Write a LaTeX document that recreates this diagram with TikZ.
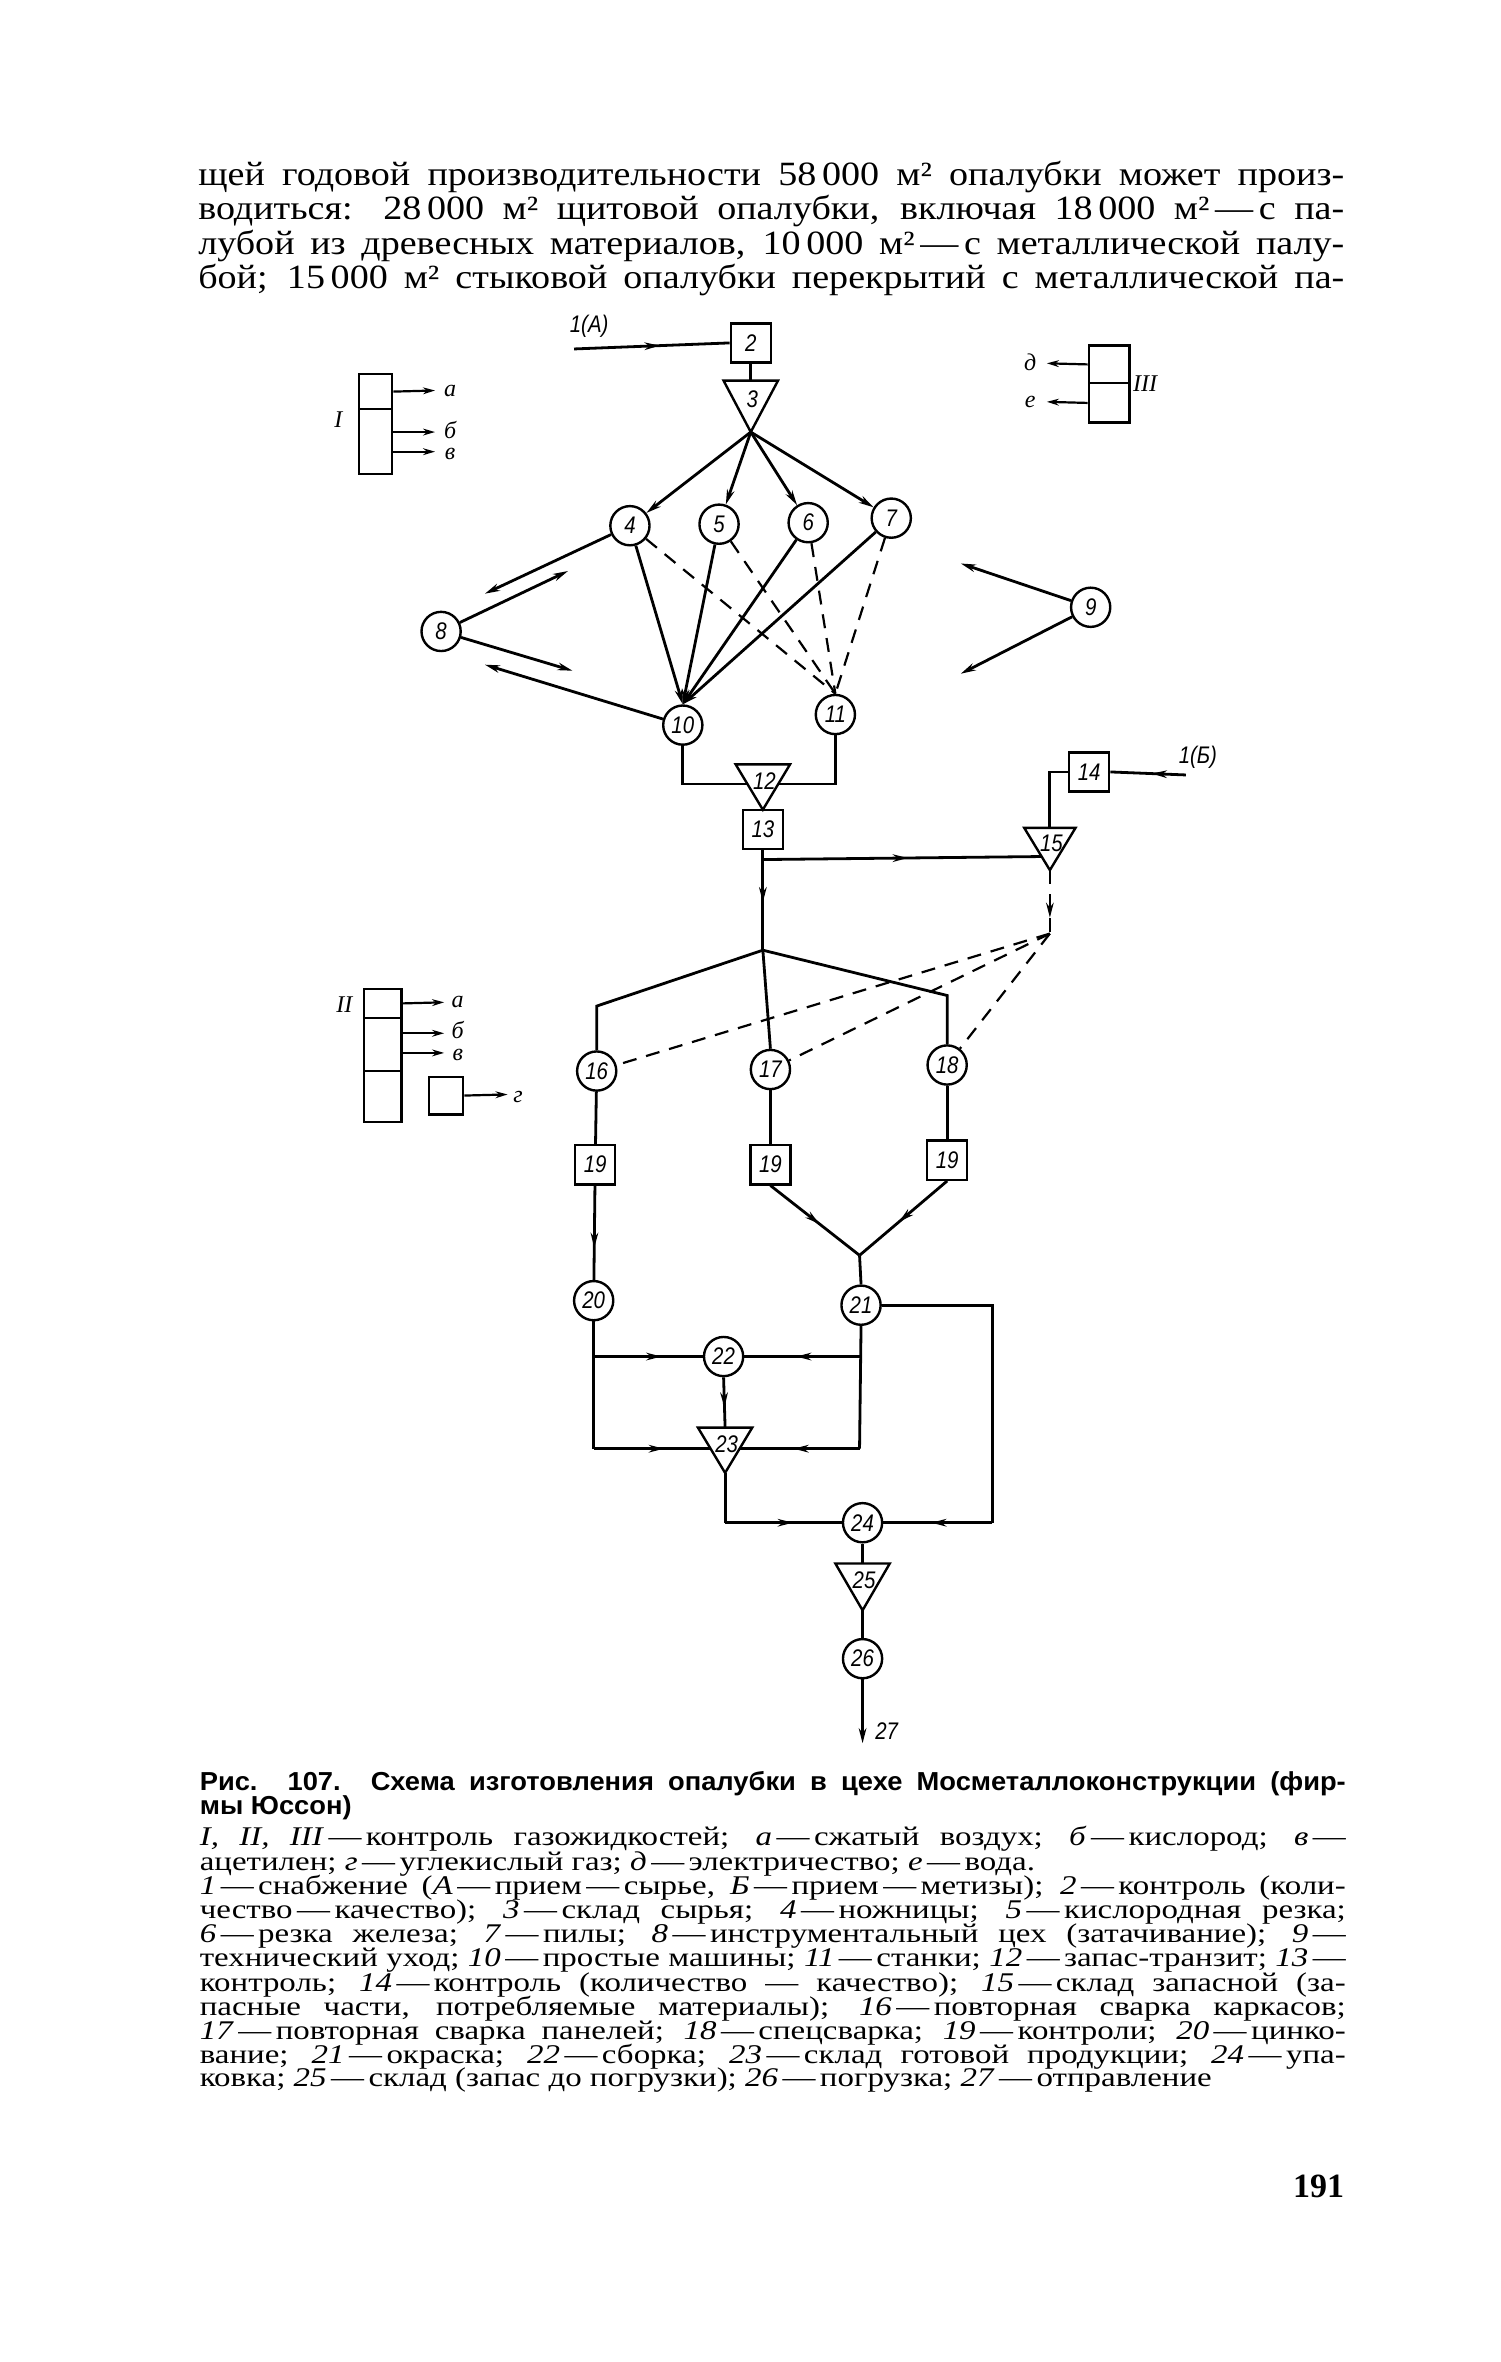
\documentclass[tikz,border=0pt]{standalone}
\usepackage{fontspec}
\setmainfont{Liberation Serif}
\newfontfamily\txtfont[FakeStretch=1.12]{Liberation Serif}
\newfontfamily\capfont[FakeStretch=1.22]{Liberation Serif}
\newfontfamily\titfont[FakeStretch=1.05]{Liberation Sans}
\newfontfamily\numfont[FakeStretch=0.85]{Liberation Sans}
\usetikzlibrary{arrows.meta,decorations.markings,calc}
\newcommand\jline[1]{\makebox[573pt][s]{#1}}
\newcommand\lline[1]{\makebox[573pt][l]{#1}}
\newcommand\dd{\,—\,}
\newcommand\trinode[6]{%
  \draw[line width=1.2pt] ({#2-#4},#3) -- ({#2+#4},#3) -- (#2,{#3+#5}) -- cycle;
  \coordinate (#1-top) at (#2,#3);
  \coordinate (#1-apex) at (#2,{#3+#5});
  \node[lab] (#1) at ({#2+1},{#3+#5*0.36}) {#6};}
\tikzset{
  ln/.style={line width=1.4pt},
  thn/.style={line width=1.1pt},
  endarr/.style={-{Stealth[length=7.5pt,width=3.8pt]}},
  smarr/.style={-{Stealth[length=6pt,width=3.4pt]}},
  midarr/.style={postaction={decorate},decoration={markings,mark=at position #1 with {\arrow{Stealth[length=7.5pt,width=3.8pt]}}}},
  midarr/.default=0.5,
  dsh/.style={dash pattern=on 7pt off 5pt,line width=1.1pt},
  circ/.style={circle,draw,line width=1.2pt,minimum size=19.6pt,inner sep=0pt,font=\numfont\itshape\fontsize{12}{12}\selectfont},
  sq/.style={rectangle,draw,line width=1.2pt,minimum width=20pt,minimum height=19.6pt,inner sep=0pt,font=\numfont\itshape\fontsize{12}{12}\selectfont},
  lab/.style={inner sep=0pt,font=\numfont\itshape\fontsize{12}{12}\selectfont},
  slab/.style={inner sep=0pt,font=\itshape\fontsize{12}{12}\selectfont},
  blk/.style={draw,line width=1.1pt,inner sep=0pt,anchor=north west},
  toptext/.style={anchor=base west,inner sep=0pt,font=\txtfont\fontsize{17}{17}\selectfont},
  captext/.style={anchor=base west,inner sep=0pt,font=\capfont\fontsize{13.5}{12}\selectfont},
  tittext/.style={anchor=base west,inner sep=0pt,font=\titfont\bfseries\fontsize{13}{12}\selectfont},
}
\begin{document}
\begin{tikzpicture}[x=0.7553pt,y=-0.7553pt]
\useasboundingbox[fill=white] (0,0) rectangle (993,1563.6);

% ---------- top text ----------
\node[toptext] (p1) at (131,122.5) {\jline{щей годовой производительности 58\,000 м² опалубки может произ-}};
\node[toptext] (p2) at (131,145.5) {\jline{водиться: 28\,000 м² щитовой опалубки, включая 18\,000 м²\dd с па-}};
\node[toptext] (p3) at (131,168.3) {\jline{лубой из древесных материалов, 10\,000 м²\dd с металлической палу-}};
\node[toptext] (p4) at (131,191) {\jline{бой; 15\,000 м² стыковой опалубки перекрытий с металлической па-}};

% ---------- blocks I, II, III ----------
\node[blk,minimum width=22*0.7553pt,minimum height=23*0.7553pt] (bIa) at (237,247) {};
\node[blk,minimum width=22*0.7553pt,minimum height=43*0.7553pt] (bIb) at (237,270) {};
\coordinate (Ia) at (288,258.5);
\coordinate (Ib) at (288,286);
\coordinate (Ic) at (288,299);
\draw[thn,smarr] (bIa.east) -- (Ia);
\draw[thn,smarr] ($(bIb.north east)+(0,16)$) -- (Ib);
\draw[thn,smarr] ($(bIb.north east)+(0,29)$) -- (Ic);
\node[slab] (lIa) at (298,259) {а};
\node[slab] (lIb) at (298,284.5) {б};
\node[slab] (lIc) at (298,300.5) {в};
\node[slab] (lI) at (224,278) {I};

\node[blk,minimum width=25*0.7553pt,minimum height=19*0.7553pt] (bIIa) at (240,654) {};
\node[blk,minimum width=25*0.7553pt,minimum height=35*0.7553pt] (bIIb) at (240,673) {};
\node[blk,minimum width=25*0.7553pt,minimum height=34*0.7553pt] (bIIc) at (240,708) {};
\coordinate (IIa) at (294,663.5);
\coordinate (IIb) at (294,684);
\coordinate (IIc) at (294,697);
\draw[thn,smarr] (bIIa.east) -- (IIa);
\draw[thn,smarr] ($(bIIb.north east)+(0,11)$) -- (IIb);
\draw[thn,smarr] ($(bIIb.north east)+(0,24)$) -- (IIc);
\node[slab] (lIIa) at (303,663) {а};
\node[slab] (lIIb) at (303,682) {б};
\node[slab] (lIIc) at (303,698.5) {в};
\node[slab] (lII) at (228,665) {II};
\node[blk,minimum width=23*0.7553pt,minimum height=25*0.7553pt] (bg) at (283,712) {};
\coordinate (IId) at (336,724.5);
\draw[thn,smarr] (bg.east) -- (IId);
\node[slab] (lIId) at (343,726) {г};

\node[blk,minimum width=27*0.7553pt,minimum height=25*0.7553pt] (bIIIa) at (720,228) {};
\node[blk,minimum width=27*0.7553pt,minimum height=26*0.7553pt] (bIIIb) at (720,253) {};
\coordinate (IIIa) at (693,240.5);
\coordinate (IIIb) at (693,266);
\draw[thn,smarr] (bIIIa.west) -- (IIIa);
\draw[thn,smarr] (bIIIb.west) -- (IIIb);
\node[slab] (lIIIa) at (682,240) {д};
\node[slab] (lIIIb) at (682,266) {е};
\node[slab] (lIII) at (758,254) {III};

% ---------- upper graph ----------
\node[sq] (n2) at (497,227) {2};
\coordinate (in1A) at (380,231);
\node[lab] (l1A) at (390,216) {1(А)};
\draw[ln,midarr=0.55] (in1A) -- (n2.west);
\trinode{t3}{497}{252}{18}{34}{3}
\draw[ln] (n2.south) -- (t3-top);

\node[circ] (n4) at (417,348) {4};
\node[circ] (n5) at (476,347) {5};
\node[circ] (n6) at (535,346) {6};
\node[circ] (n7) at (590,343) {7};
\node[circ] (n8) at (292,418) {8};
\node[circ] (n9) at (722,402) {9};
\node[circ] (n10) at (452,480) {10};
\node[circ] (n11) at (553,473) {11};

\foreach \n in {n4,n5,n6,n7} \draw[ln,endarr] (t3-apex) -- (\n);
\foreach \n in {n4,n5,n6,n7} \draw[ln,endarr] (\n) -- (n10.north);
\foreach \n in {n4,n5,n6,n7} \draw[dsh] (\n) -- (n11.north);

\coordinate (f48) at (321,393);
\coordinate (f84) at (376,378);
\coordinate (f810) at (379,444);
\coordinate (f108) at (321,440);
\coordinate (f9a) at (636,373);
\coordinate (f9b) at (636,446);
\draw[ln,endarr] (n4) -- (f48);
\draw[ln,endarr] (n8) -- (f84);
\draw[ln,endarr] (n8) -- (f810);
\draw[ln,endarr] (n10) -- (f108);
\draw[ln,endarr] (n9) -- (f9a);
\draw[ln,endarr] (n9) -- (f9b);

% ---------- middle ----------
\trinode{t12}{505}{506}{18}{30}{12}
\coordinate (t12l) at (495,519);
\coordinate (t12r) at (515,519);
\draw[ln] (n10.south) |- (t12l);
\draw[ln] (n11.south) |- (t12r);
\node[sq] (n13) at (505,549) {13};

\node[sq] (n14) at (721,511) {14};
\coordinate (in1B) at (785,513);
\node[lab] (l1B) at (793,501) {1(Б)};
\draw[ln,midarr=0.45] (in1B) -- (n14.east);
\trinode{t15}{695}{548}{17}{28}{15}
\draw[ln] (n14.west) -| (t15-top);

\coordinate (br13) at (505,569);
\coordinate (t15l) at (689.5,567);
\coordinate (jn) at (505,629);
\draw[ln,midarr=0.52] (n13.south) -- (jn);
\draw[ln,midarr=0.52] (br13) -- (t15l);
\coordinate (cv) at (695,618);
\draw[dsh,midarr=0.75] (t15-apex) -- (cv);

\node[circ] (n16) at (395,709) {16};
\node[circ] (n17) at (510,708) {17};
\node[circ] (n18) at (627,705) {18};
\draw[dsh] (cv) -- (n16);
\draw[dsh] (cv) -- (n17);
\draw[dsh] (cv) -- (n18);

\coordinate (k16) at (395,666);
\coordinate (k18) at (627,659);
\draw[ln] (jn) -- (k16) -- (n16.north);
\draw[ln] (jn) -- (n17.north);
\draw[ln] (jn) -- (k18) -- (n18.north);

\node[sq] (n19a) at (394,771) {19};
\node[sq] (n19b) at (510,771) {19};
\node[sq] (n19c) at (627,768) {19};
\draw[ln] (n16) -- (n19a);
\draw[ln] (n17) -- (n19b);
\draw[ln] (n18) -- (n19c);

% ---------- lower ----------
\node[circ] (n20) at (393,861) {20};
\node[circ] (n21) at (570,864) {21};
\node[circ] (n22) at (479,898) {22};
\draw[ln,midarr=0.66] (n19a) -- (n20);
\coordinate (jn21) at (569,831);
\draw[ln,midarr=0.55] (n19b.south) -- (jn21);
\draw[ln,midarr=0.55] (n19c.south) -- (jn21);
\draw[ln] (jn21) -- (n21.north);

\coordinate (r1) at (657,864);
\coordinate (r2) at (657,1008);
\node[circ] (n24) at (571,1008) {24};
\draw[ln] (n21.east) -- (r1) -- (r2);
\draw[ln,midarr=0.56] (r2) -- (n24.east);

\trinode{t23}{480}{945}{18}{30}{23}
\coordinate (a20) at (393,898);
\coordinate (b20) at (393,959);
\coordinate (a21) at (569,898);
\coordinate (b21) at (569,959);
\coordinate (t23l) at (470.4,959);
\coordinate (t23r) at (489.6,959);
\draw[ln] (n20.south) -- (b20);
\draw[ln] (n21.south) -- (b21);
\draw[ln,midarr=0.62] (a20) -- (n22.west);
\draw[ln,midarr=0.55] (a21) -- (n22.east);
\draw[ln,midarr=0.6] (b20) -- (t23l);
\draw[ln,midarr=0.55] (b21) -- (t23r);
\draw[ln,midarr=0.6] (n22.south) -- (t23-top);

\coordinate (c23) at (480,1008);
\draw[ln] (t23-apex) -- (c23);
\draw[ln,midarr=0.58] (c23) -- (n24.west);

\trinode{t25}{571}{1035}{18}{31}{25}
\node[circ] (n26) at (571,1098) {26};
\draw[ln] (n24.south) -- (t25-top);
\draw[ln] (t25-apex) -- (n26.north);
\coordinate (e27) at (571,1154);
\draw[ln,endarr] (n26.south) -- (e27);
\node[lab] (l27) at (587,1146) {27};

% ---------- caption ----------
\node[tittext] (c1) at (132,1185) {\jline{Рис. 107. Схема изготовления опалубки в цехе Мосметаллоконструкции (фир-}};
\node[tittext] (c2) at (132,1201) {\lline{мы Юссон)}};
\node[captext] (d1) at (132,1222) {\jline{\textit{I, II, III}\dd контроль газожидкостей; \textit{а}\dd сжатый воздух; \textit{б}\dd кислород; \textit{в}\,—}};
\node[captext] (d2) at (132,1238) {\lline{ацетилен; \textit{г}\dd углекислый газ; \textit{д}\dd электричество; \textit{е}\dd вода.}};
\node[captext] (d3) at (132,1254) {\jline{\textit{1}\dd снабжение (\textit{А}\dd прием\dd сырье, \textit{Б}\dd прием\dd метизы); \textit{2}\dd контроль (коли-}};
\node[captext] (d4) at (132,1270) {\jline{чество\dd качество); \textit{3}\dd склад сырья; \textit{4}\dd ножницы; \textit{5}\dd кислородная резка;}};
\node[captext] (d5) at (132,1286) {\jline{\textit{6}\dd резка железа; \textit{7}\dd пилы; \textit{8}\dd инструментальный цех (затачивание); \textit{9}\,—}};
\node[captext] (d6) at (132,1302) {\jline{технический уход; \textit{10}\dd простые машины; \textit{11}\dd станки; \textit{12}\dd запас-транзит; \textit{13}\,—}};
\node[captext] (d7) at (132,1318) {\jline{контроль; \textit{14}\dd контроль (количество — качество); \textit{15}\dd склад запасной (за-}};
\node[captext] (d8) at (132,1334) {\jline{пасные части, потребляемые материалы); \textit{16}\dd повторная сварка каркасов;}};
\node[captext] (d9) at (132,1350) {\jline{\textit{17}\dd повторная сварка панелей; \textit{18}\dd спецсварка; \textit{19}\dd контроли; \textit{20}\dd цинко-}};
\node[captext] (d10) at (132,1366) {\jline{вание; \textit{21}\dd окраска; \textit{22}\dd сборка; \textit{23}\dd склад готовой продукции; \textit{24}\dd упа-}};
\node[captext] (d11) at (132,1381) {\lline{ковка; \textit{25}\dd склад (запас до погрузки); \textit{26}\dd погрузка; \textit{27}\dd отправление}};

\node[anchor=base east,inner sep=0pt,font=\bfseries\fontsize{17}{17}\selectfont] (pg) at (890,1455) {191};
\end{tikzpicture}
\end{document}
